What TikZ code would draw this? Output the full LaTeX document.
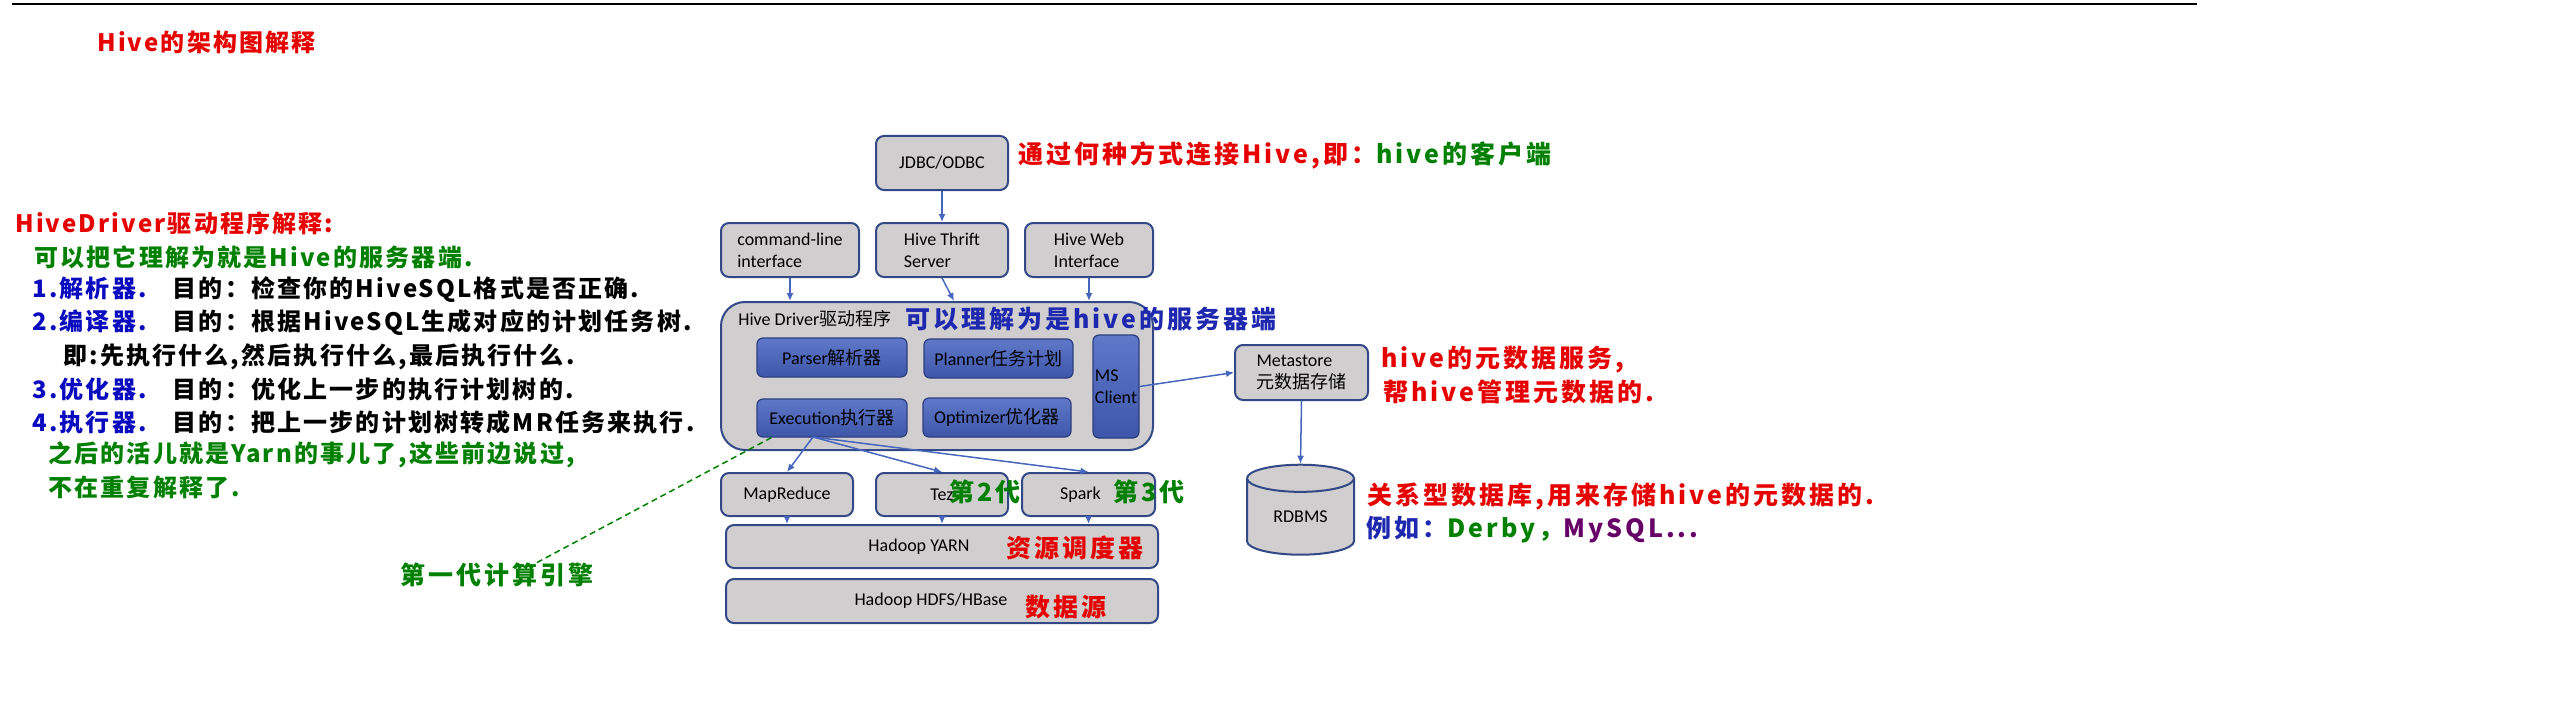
\documentclass[tikz,border=0pt]{standalone}
\usepackage{xcolor}
\usepackage{fontspec}
\setmainfont{Carlito}
\newfontfamily\cjk{Noto Sans CJK SC}
\newfontfamily\notefont[LetterSpace=12]{Noto Sans CJK SC}
\newfontfamily\leftfont[LetterSpace=9]{Noto Sans CJK SC}
\usepackage{tikz}
\usetikzlibrary{arrows.meta,shapes.geometric}

\definecolor{boxgray}{RGB}{208,206,206}
\definecolor{boxline}{RGB}{50,72,135}
\definecolor{coretop}{RGB}{96,120,200}
\definecolor{corebot}{RGB}{62,86,168}
\definecolor{coreline}{RGB}{45,62,130}
\definecolor{arrowblue}{RGB}{70,102,190}
\definecolor{notered}{RGB}{230,0,0}
\definecolor{notegreen}{RGB}{0,128,0}
\definecolor{numblue}{RGB}{10,10,190}
\definecolor{srvblue}{RGB}{30,40,175}
\definecolor{mysqlpurple}{RGB}{102,0,102}

\newcommand{\boxfont}{\fontsize{9pt}{11pt}\selectfont}
\newcommand{\notesize}{\notefont\bfseries\fontsize{12.5pt}{15pt}\selectfont}
\newcommand{\leftsize}{\leftfont\bfseries\fontsize{12pt}{15pt}\selectfont}

\begin{document}
\begin{tikzpicture}[x=0.5pt,y=-0.5pt,
  box/.style={draw=boxline,fill=boxgray,line width=1pt,rounded corners=4pt,inner sep=0pt,align=left,font=\boxfont},
  core/.style={draw=coreline,top color=coretop,bottom color=corebot,line width=0.6pt,rounded corners=3pt,inner sep=0pt,align=left,font=\boxfont},
  db/.style={cylinder,shape border rotate=90,aspect=0.5,draw=boxline,fill=boxgray,line width=1pt,minimum width=53.5pt,minimum height=45pt,inner sep=0pt,font=\boxfont},
  note/.style={anchor=west,inner sep=0pt,font=\notesize},
  lnote/.style={anchor=west,inner sep=0pt,font=\leftsize},
  arrow/.style={-{Latex[length=4pt,width=3.5pt]},draw=arrowblue,line width=0.75pt}
]
\useasboundingbox (0,0) rectangle (2560,706);
\draw[line width=1pt] (12,4) -- (2197,4);

% clients
\node[box,minimum width=66pt,minimum height=27pt] (jdbc) at (942,163) {JDBC/ODBC};
\node[box,minimum width=69pt,minimum height=27pt] (cli) at (790,250) {command-line\\interface};
\node[box,minimum width=66pt,minimum height=27pt] (thrift) at (942,250) {Hive Thrift\\Server};
\node[box,minimum width=64pt,minimum height=27pt] (web) at (1089,250) {Hive Web\\Interface};

% driver
\node[box,rounded corners=12pt,minimum width=216pt,minimum height=74pt] (driver) at (937,376) {};
\node[anchor=west,inner sep=0pt,font=\boxfont] (drvtitle) at (738,319) {Hive Driver{\cjk 驱动程序}};
\node[core,minimum width=75pt,minimum height=19.5pt] (parser) at (832,357.5) {Parser{\cjk 解析器}};
\node[core,minimum width=74.5pt,minimum height=19.5pt] (planner) at (998.5,358.5) {Planner{\cjk 任务计划}};
\node[core,minimum width=75pt,minimum height=19pt] (exec) at (832,418) {Execution{\cjk 执行器}};
\node[core,minimum width=74pt,minimum height=19.5pt] (optim) at (997,417.5) {Optimizer{\cjk 优化器}};
\node[core,minimum width=23pt,minimum height=51.5pt] (ms) at (1116,386.5) {MS\\Client};

% engines and hadoop
\node[box,minimum width=66pt,minimum height=21.5pt] (mr) at (787,494.5) {MapReduce};
\node[box,minimum width=66pt,minimum height=21.5pt] (tez) at (942,494.5) {Tez};
\node[box,minimum width=66.5pt,minimum height=21.5pt] (spark) at (1088.5,494.5) {Spark\hspace*{8pt}};
\node[box,minimum width=216pt,minimum height=21.5pt] (yarn) at (942,546.5) {Hadoop YARN\hspace*{23pt}};
\node[box,minimum width=216pt,minimum height=22pt] (hdfs) at (942,601) {Hadoop HDFS/HBase\hspace*{11pt}};

% metastore
\node[box,minimum width=66.5pt,minimum height=27.5pt] (meta) at (1301.5,372.5) {Metastore\\{\cjk 元数据存储}};
\node[db] (rdbms) at (1300.5,517) {RDBMS};

\draw[arrow] (jdbc) -- (thrift);
\draw[arrow] (cli.south) -- (cli.south |- driver.north);
\draw[arrow] (thrift.south) -- ([xshift=6pt]thrift.south |- driver.north);
\draw[arrow] (web.south) -- (web.south |- driver.north);
\draw[arrow] (ms.east) -- (meta.west);
\draw[arrow] (meta.south) -- (rdbms.north);
\coordinate (execout) at (813,437);
\draw[arrow] (execout) -- (mr.north);
\draw[arrow] (execout) -- (tez.north);
\draw[arrow] (execout) -- (spark.north);
\foreach \n in {mr,tez,spark}
  \draw[arrow] (\n.south) -- (\n.south |- yarn.north);

% notes
\node[lnote,text=notered] (title) at (97,42) {Hive的架构图解释};
\node[lnote,text=notered] (drvhead) at (15,223) {HiveDriver驱动程序解释:};
\node[lnote,text=notegreen] (drvnote) at (34,257) {可以把它理解为就是Hive的服务器端.};
\node[lnote] (step1) at (32,290) {\textcolor{numblue}{1.解析器.}　目的：检查你的HiveSQL格式是否正确.};
\node[lnote] (step2) at (32,323) {\textcolor{numblue}{2.编译器.}　目的：根据HiveSQL生成对应的计划任务树.};
\node[lnote] (step2b) at (63,357) {即:先执行什么,然后执行什么,最后执行什么.};
\node[lnote] (step3) at (32,389) {\textcolor{numblue}{3.优化器.}　目的：优化上一步的执行计划树的.};
\node[lnote] (step4) at (32,422) {\textcolor{numblue}{4.执行器.}　目的：把上一步的计划树转成MR任务来执行.};
\node[lnote,text=notegreen] (yarnline) at (48,455) {之后的活儿就是Yarn的事儿了,这些前边说过,};
\node[lnote,text=notegreen] (yarnline2) at (48,487) {不在重复解释了.};

\node[note,text=notered] (connnote) at (1018,155) {通过何种方式连接Hive,即：\textcolor{notegreen}{hive的客户端}};
\node[note,text=srvblue] (srvnote) at (905,319) {可以理解为是hive的服务器端};
\node[note,text=notered] (metanote) at (1381,360) {hive的元数据服务,};
\node[note,text=notered] (metanote2) at (1383,392) {帮hive管理元数据的.};
\node[note,text=notered] (dbnote) at (1367,497) {关系型数据库,用来存储hive的元数据的.};
\node[note,text=srvblue] (dbnote2) at (1366,530) {例如：\textcolor{notegreen}{Derby，}\textcolor{mysqlpurple}{MySQL...}};
\node[note,text=notegreen] (gen2) at (949,492) {第2代};
\node[note,text=notegreen] (gen3) at (1113,492) {第3代};
\node[note,text=notered] (yarnnote) at (1006,548) {资源调度器};
\node[note,text=notered] (hdfsnote) at (1025,607) {数据源};
\node[note,text=notegreen] (gen1) at (400,575) {第一代计算引擎};

\draw[densely dashed,draw=notegreen,line width=0.75pt] ([xshift=20pt]gen1.north) -- ([xshift=7.5pt]exec.south west);
\end{tikzpicture}
\end{document}
